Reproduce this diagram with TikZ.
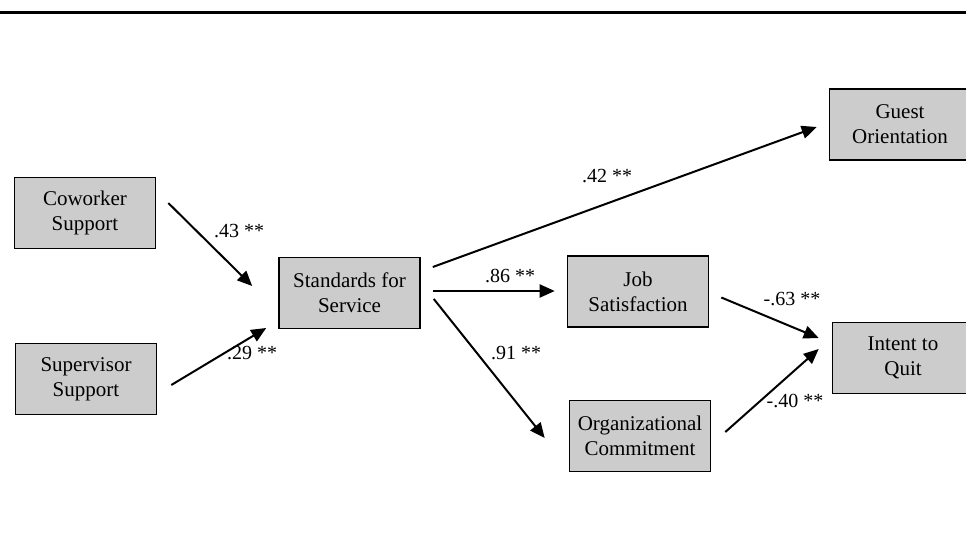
\documentclass[tikz,border=0pt]{standalone}
\usepackage{fontspec}
\setmainfont{Liberation Serif}
\usetikzlibrary{arrows.meta}

\begin{document}
\begin{tikzpicture}[x=1pt,y=-1pt,
        box/.style={
          draw=black, line width=1.6pt, fill=black!20,
          minimum width=141pt, minimum height=71pt, align=center,
          font=\fontsize{21}{25}\selectfont
        },
        link/.style={
          line width=2pt, -{Triangle[length=15pt,width=13pt]}
        },
        coef/.style={font=\fontsize{20}{22}\selectfont}
      ]
      \clip (0,0) rectangle (966,546);
      \useasboundingbox (0,0) rectangle (966,546);
      \draw [line width=3pt] (0,12) -- (966,12);
      % boxes
      \node [box] (cw) at (85,213) {Coworker\\Support};
      \node [box] (sv) at (86,379) {Supervisor\\Support};
      \node [box] (sfs) at (349.5,293) {Standards for\\Service};
      \node [box] (go) at (900,124.5) {Guest\\Orientation};
      \node [box] (js) at (638,291.5) {Job\\Satisfaction};
      \node [box] (oc) at (640,436) {Organizational\\Commitment};
      \node [box] (iq) at (903,358) {Intent to\\Quit};
      % paths
      \draw [link] ([shift={(12,-10)}]cw.east) -- ([shift={(-26,-7)}]sfs.west);
      \draw [link] ([shift={(14,6)}]sv.east) -- ([shift={(-12,35)}]sfs.west);
      \draw [link] ([shift={(12,-26)}]sfs.east) -- ([shift={(-12,2.5)}]go.west);
      \draw [link] ([shift={(12,-2)}]sfs.east) -- ([shift={(-12,-0.5)}]js.west);
      \draw [link] ([shift={(13,6)}]sfs.east) -- ([shift={(-24,2)}]oc.west);
      \draw [link] ([shift={(12,6)}]js.east) -- ([shift={(-13,-20)}]iq.west);
      \draw [link] ([shift={(14,-4)}]oc.east) -- ([shift={(-13,-9)}]iq.west);
      % coefficients
      \node [coef] (c1) at (239,231) {.43 **};
      \node [coef] (c2) at (252,353) {.29 **};
      \node [coef] (c3) at (607,176) {.42 **};
      \node [coef] (c4) at (510,276) {.86 **};
      \node [coef] (c5) at (516,353) {.91 **};
      \node [coef] (c6) at (792,299) {-.63 **};
      \node [coef] (c7) at (795,401) {-.40 **};
    \end{tikzpicture}
\end{document}
